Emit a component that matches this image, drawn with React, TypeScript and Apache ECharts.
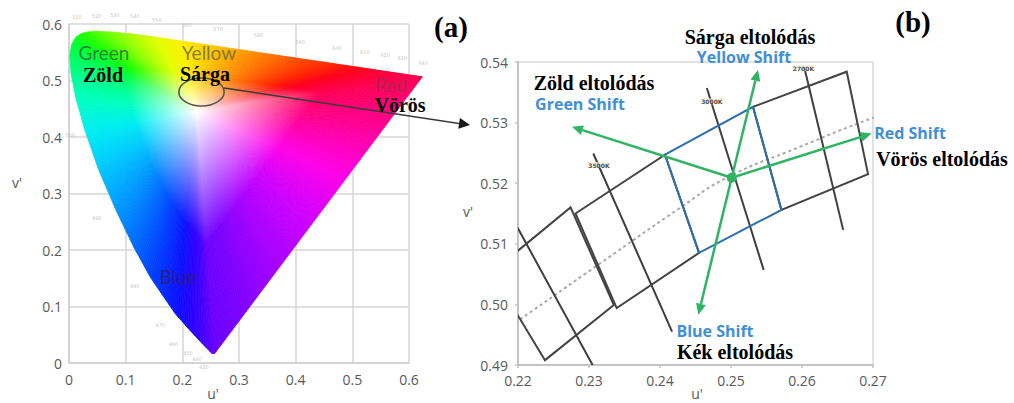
import React, { useEffect, useRef } from "react";
import * as echarts from "echarts";

// ---------------- Panel (a): CIE 1976 u'v' chromaticity diagram ----------------
const panelATicks = [0, 0.1, 0.2, 0.3, 0.4, 0.5, 0.6];

// spectral locus (380 nm ... 700 nm)
const spectralNm = [380, 420, 440, 450, 460, 470, 475, 480, 485, 490, 495, 500, 505, 510, 515, 520, 525, 530, 540, 550, 560, 570, 580, 590, 600, 610, 620, 630, 640, 650, 700];
const spectralU = [0.2568, 0.2522, 0.2347, 0.2161, 0.1877, 0.1441, 0.1147, 0.0828, 0.0521, 0.0282, 0.0119, 0.0035, 0.0014, 0.0046, 0.0123, 0.0231, 0.036, 0.0501, 0.0792, 0.1127, 0.1531, 0.2026, 0.2623, 0.3315, 0.4035, 0.4692, 0.5203, 0.5565, 0.583, 0.6005, 0.6234];
const spectralV = [0.0166, 0.0169, 0.035, 0.0549, 0.0871, 0.151, 0.2044, 0.2708, 0.3427, 0.4117, 0.4698, 0.5131, 0.5432, 0.5638, 0.577, 0.5837, 0.5861, 0.5868, 0.5856, 0.5821, 0.5766, 0.5694, 0.5604, 0.5501, 0.5393, 0.5296, 0.5219, 0.5165, 0.5125, 0.5099, 0.5065];
const spectralColors = ["#6a00ff", "#6000ff", "#4000ff", "#2800ff", "#0a10ff", "#0040ff", "#0068ff", "#0098ff", "#00c8ff", "#00eef0", "#00ffc0", "#00ff90", "#00ff60", "#00ff38", "#10ff18", "#20ff00", "#38ff00", "#50ff00", "#80ff00", "#b0ff00", "#e0ff00", "#ffee00", "#ffc000", "#ff8800", "#ff5000", "#ff2000", "#ff0018", "#ff0030", "#ff0040", "#ff0048", "#ff0050"];
// line of purples (from 700 nm back to 380 nm)
const purpleU = [0.56, 0.49, 0.42, 0.35, 0.3];
const purpleV = [0.4218, 0.3282, 0.2347, 0.1411, 0.0743];
const purpleColors = ["#ff0090", "#ff00e8", "#c800ff", "#9a00ff", "#7a00ff"];
const whitePoint = [0.225, 0.445];

// faint wavelength tick numbers around the locus
const wavelengthNames = ["510", "520", "530", "540", "550", "560", "570", "580", "590", "600", "610", "620", "630", "640", "500", "490", "480", "470", "460", "450", "440", "420"];
const wavelengthU = [0.014, 0.049, 0.081, 0.116, 0.155, 0.208, 0.263, 0.334, 0.408, 0.473, 0.522, 0.558, 0.588, 0.625, 0.002, 0.049, 0.116, 0.161, 0.184, 0.21, 0.226, 0.238];
const wavelengthV = [0.612, 0.614, 0.616, 0.614, 0.607, 0.598, 0.591, 0.581, 0.568, 0.558, 0.551, 0.545, 0.54, 0.531, 0.404, 0.257, 0.136, 0.067, 0.034, 0.018, 0.007, -0.007];

// "Sárga" circle and the arrow to panel (b)
const sargaCenter = [0.2338, 0.4796];
const sargaRadius = [0.04, 0.0248];
const zoomArrowFrom = [0.2735, 0.4867];
const zoomArrowTo = [0.7076, 0.4212];

// ---------------- Panel (b): zoom on the 3000 K region ----------------
const panelBUTicks = [0.22, 0.23, 0.24, 0.25, 0.26, 0.27];
const panelBVTicks = [0.49, 0.5, 0.51, 0.52, 0.53, 0.54];

const locusU = [0.216, 0.2201, 0.2316, 0.2428, 0.2494, 0.2597, 0.2698, 0.274];
const locusV = [0.4943, 0.4974, 0.5068, 0.5159, 0.5209, 0.526, 0.5307, 0.5322];

const bin4000 = [[0.2163, 0.5053], [0.2274, 0.516], [0.2335, 0.4999], [0.2238, 0.4908]];
const bin3500 = [[0.2281, 0.515], [0.2407, 0.5247], [0.2455, 0.5085], [0.2339, 0.4994]];
const bin3000 = [[0.2407, 0.5247], [0.2531, 0.5326], [0.2571, 0.5156], [0.2455, 0.5085]];
const bin2700 = [[0.2531, 0.5326], [0.2663, 0.5384], [0.2693, 0.5215], [0.2571, 0.5156]];

const cct4000 = [[0.2182, 0.5164], [0.2306, 0.4898]];
const cct3500 = [[0.2306, 0.5249], [0.2417, 0.4955]];
const cct3000 = [[0.2466, 0.5357], [0.2546, 0.5057]];
const cct2700 = [[0.2603, 0.5392], [0.2658, 0.5123]];

const cctNames = ["3500K", "3000K", "2700K"];
const cctLabelU = [0.2314, 0.2473, 0.2602];
const cctLabelV = [0.523, 0.5335, 0.539];

const shiftOrigin = [0.2501, 0.5209];
const shiftNames = ["Yellow", "Red", "Blue", "Green"];
const shiftTipU = [0.2538, 0.2698, 0.2454, 0.2276];
const shiftTipV = [0.5387, 0.5282, 0.4983, 0.5293];

// ---------------- helpers ----------------
function hexToRgb(h: string) {
  const n = parseInt(h.slice(1), 16);
  return [(n >> 16) & 255, (n >> 8) & 255, n & 255];
}
function lerpColor(a: string, b: string, t: number) {
  const A = hexToRgb(a);
  const B = hexToRgb(b);
  const c = A.map((v, i) => Math.round(v + (B[i] - v) * t));
  return `rgb(${c[0]},${c[1]},${c[2]})`;
}
function arrowHead(s: number[], t: number[], len: number, half: number) {
  const dx = t[0] - s[0];
  const dy = t[1] - s[1];
  const L = Math.hypot(dx, dy) || 1;
  const ux = dx / L, uy = dy / L;
  const base = [t[0] - ux * len, t[1] - uy * len];
  const nx = -uy, ny = ux;
  return {
    base,
    points: [t, [base[0] + nx * half, base[1] + ny * half], [base[0] - nx * half, base[1] - ny * half]],
  };
}
const fmt2 = (v: number) => v.toFixed(2);
const fmtA = (v: number) => String(+v.toFixed(2));

function txt(text: string, x: number, y: number, font: string, fill: string, extra: any = {}) {
  return {
    type: "text",
    x,
    y,
    z: 100,
    silent: true,
    style: {
      text,
      font,
      fill,
      textAlign: "center",
      textVerticalAlign: "middle",
      align: "center",
      verticalAlign: "middle",
      ...extra,
    },
  };
}

function buildOption() {
  const boundaryU = [...spectralU, ...purpleU];
  const boundaryV = [...spectralV, ...purpleV];
  const boundaryC = [...spectralColors, ...purpleColors];

  const axisLabelStyle = { fontFamily: "Open Sans", fontSize: 14, color: "#595959" };
  const serifBold = (s: number) => `bold ${s}px "Liberation Serif"`;
  const shiftFont = 'bold 16px "Open Sans"';
  const shiftBlue = "#3f8fd8";
  const green = "#2fb463";

  const binSeries = (bins: number[][][], color: string, z: number) => ({
    type: "custom",
    xAxisIndex: 1,
    yAxisIndex: 1,
    clip: true,
    silent: true,
    z,
    data: bins.map((_, i) => [0.245, 0.515, i]),
    renderItem: (params: any, api: any) => {
      const q = bins[params.dataIndex];
      return {
        type: "polygon",
        shape: { points: q.map((p) => api.coord(p)) },
        style: { fill: "none", stroke: color, lineWidth: 2 },
      };
    },
  });

  const cctLines = [cct4000, cct3500, cct3000, cct2700];

  return {
    animation: false,
    backgroundColor: "#ffffff",
    grid: [
      { left: 69, top: 24, width: 340, height: 339, show: false },
      { left: 518, top: 62, width: 355, height: 303, show: true, borderColor: "#d9d9d9", borderWidth: 1.5, backgroundColor: "transparent" },
    ],
    xAxis: [
      {
        gridIndex: 0,
        type: "value",
        min: panelATicks[0],
        max: panelATicks[panelATicks.length - 1],
        interval: 0.1,
        axisLine: { show: true, lineStyle: { color: "#cfcfcf", width: 1.5 } },
        axisTick: { show: false },
        splitLine: { show: true, lineStyle: { color: "#d6d6d6", width: 1.5 } },
        axisLabel: { ...axisLabelStyle, margin: 9, formatter: fmtA },
      },
      {
        gridIndex: 1,
        type: "value",
        min: panelBUTicks[0],
        max: panelBUTicks[panelBUTicks.length - 1],
        interval: 0.01,
        axisLine: { show: true, lineStyle: { color: "#c4c4c4", width: 2 } },
        axisTick: { show: true, length: 3, lineStyle: { color: "#c4c4c4", width: 1.5 } },
        splitLine: { show: false },
        axisLabel: { ...axisLabelStyle, margin: 8, formatter: fmt2 },
      },
    ],
    yAxis: [
      {
        gridIndex: 0,
        type: "value",
        min: panelATicks[0],
        max: panelATicks[panelATicks.length - 1],
        interval: 0.1,
        axisLine: { show: true, lineStyle: { color: "#cfcfcf", width: 1.5 } },
        axisTick: { show: false },
        splitLine: { show: true, lineStyle: { color: "#d6d6d6", width: 1.5 } },
        axisLabel: { ...axisLabelStyle, margin: 7, formatter: fmtA },
      },
      {
        gridIndex: 1,
        type: "value",
        min: panelBVTicks[0],
        max: panelBVTicks[panelBVTicks.length - 1],
        interval: 0.01,
        axisLine: { show: true, lineStyle: { color: "#c4c4c4", width: 2 } },
        axisTick: { show: true, length: 3, lineStyle: { color: "#c4c4c4", width: 1.5 } },
        splitLine: { show: false },
        axisLabel: { ...axisLabelStyle, margin: 10, formatter: fmt2 },
      },
    ],
    series: [
      // colour fill of the chromaticity diagram
      {
        type: "custom",
        xAxisIndex: 0,
        yAxisIndex: 0,
        clip: false,
        silent: true,
        z: 2,
        data: [[0.3, 0.3]],
        renderItem: (_params: any, api: any) => {
          const c = api.coord(whitePoint);
          const pts = boundaryU.map((u, i) => api.coord([u, boundaryV[i]]));
          const n = pts.length;
          const children: any[] = [];
          for (let i = 0; i < n; i++) {
            const p1 = pts[i];
            const p2 = pts[(i + 1) % n];
            const c1 = boundaryC[i];
            const c2 = boundaryC[(i + 1) % n];
            const len = Math.hypot(p2[0] - p1[0], p2[1] - p1[1]);
            const k = Math.max(1, Math.ceil(len / 3));
            for (let j = 0; j < k; j++) {
              const t0 = j / k;
              const t1 = (j + 1) / k;
              const a = [p1[0] + (p2[0] - p1[0]) * t0, p1[1] + (p2[1] - p1[1]) * t0];
              const b = [p1[0] + (p2[0] - p1[0]) * t1, p1[1] + (p2[1] - p1[1]) * t1];
              const col = lerpColor(c1, c2, (t0 + t1) / 2);
              const m = [(a[0] + b[0]) / 2, (a[1] + b[1]) / 2];
              const grad = new echarts.graphic.LinearGradient(
                c[0], c[1], m[0], m[1],
                [
                  { offset: 0, color: "#ffffff" },
                  { offset: 0.55, color: col },
                  { offset: 1, color: col },
                ],
                true
              );
              children.push({
                type: "polygon",
                shape: { points: [c, a, b] },
                style: { fill: grad, stroke: grad, lineWidth: 0.8 },
              });
            }
          }
          return { type: "group", children };
        },
      },
      // faint wavelength numbers
      {
        type: "scatter",
        xAxisIndex: 0,
        yAxisIndex: 0,
        clip: false,
        silent: true,
        symbolSize: 0,
        z: 3,
        data: wavelengthNames.map((nm, i) => [wavelengthU[i], wavelengthV[i], nm]),
        label: {
          show: true,
          position: "inside",
          formatter: (p: any) => p.value[2],
          fontSize: 5,
          color: "#b4b4b4",
          fontFamily: "DejaVu Sans",
        },
      },
      // Sárga circle + arrow towards panel (b)
      {
        type: "custom",
        xAxisIndex: 0,
        yAxisIndex: 0,
        clip: false,
        silent: true,
        z: 6,
        data: [[0.3, 0.3]],
        renderItem: (_params: any, api: any) => {
          const c = api.coord(sargaCenter);
          const e = api.coord([sargaCenter[0] + sargaRadius[0], sargaCenter[1] + sargaRadius[1]]);
          const s = api.coord(zoomArrowFrom);
          const t = api.coord(zoomArrowTo);
          const h = arrowHead(s, t, 11, 5.5);
          return {
            type: "group",
            children: [
              {
                type: "ellipse",
                shape: { cx: c[0], cy: c[1], rx: Math.abs(e[0] - c[0]), ry: Math.abs(e[1] - c[1]) },
                style: { fill: "none", stroke: "#555555", lineWidth: 1.6 },
              },
              {
                type: "line",
                shape: { x1: s[0], y1: s[1], x2: h.base[0], y2: h.base[1] },
                style: { stroke: "#3a3a3a", lineWidth: 1.5 },
              },
              { type: "polygon", shape: { points: h.points }, style: { fill: "#1a1a1a" } },
            ],
          };
        },
      },
      // Planckian locus (dashed)
      {
        type: "line",
        xAxisIndex: 1,
        yAxisIndex: 1,
        clip: true,
        silent: true,
        smooth: true,
        showSymbol: false,
        symbol: "none",
        z: 3,
        data: locusU.map((u, i) => [u, locusV[i]]),
        lineStyle: { color: "#a8a8a8", width: 2, type: [3, 3] },
      },
      // isotemperature lines
      {
        type: "custom",
        xAxisIndex: 1,
        yAxisIndex: 1,
        clip: true,
        silent: true,
        z: 4,
        data: cctLines.map((_, i) => [0.245, 0.515, i]),
        renderItem: (params: any, api: any) => {
          const l = cctLines[params.dataIndex];
          const a = api.coord(l[0]);
          const b = api.coord(l[1]);
          return {
            type: "line",
            shape: { x1: a[0], y1: a[1], x2: b[0], y2: b[1] },
            style: { stroke: "#3f3f3f", lineWidth: 2 },
          };
        },
      },
      binSeries([bin4000, bin3500, bin2700], "#434343", 5),
      binSeries([bin3000], "#2f6fae", 6),
      // shift arrows
      {
        type: "custom",
        xAxisIndex: 1,
        yAxisIndex: 1,
        clip: false,
        silent: true,
        z: 8,
        data: shiftNames.map((_, i) => [shiftTipU[i], shiftTipV[i], i]),
        renderItem: (params: any, api: any) => {
          const i = params.dataIndex;
          const s = api.coord(shiftOrigin);
          const t = api.coord([shiftTipU[i], shiftTipV[i]]);
          const h = arrowHead(s, t, 11, 5);
          const children: any[] = [
            { type: "line", shape: { x1: s[0], y1: s[1], x2: h.base[0], y2: h.base[1] }, style: { stroke: green, lineWidth: 2.5 } },
            { type: "polygon", shape: { points: h.points }, style: { fill: green } },
          ];
          if (i === 0) children.push({ type: "circle", shape: { cx: s[0], cy: s[1], r: 5 }, style: { fill: green } });
          return { type: "group", children };
        },
      },
      // CCT tags
      {
        type: "scatter",
        xAxisIndex: 1,
        yAxisIndex: 1,
        clip: false,
        silent: true,
        symbolSize: 0,
        z: 9,
        data: cctNames.map((nm, i) => [cctLabelU[i], cctLabelV[i], nm]),
        label: {
          show: true,
          position: "inside",
          formatter: (p: any) => p.value[2],
          fontSize: 6,
          fontWeight: "bold",
          color: "#222222",
          fontFamily: "DejaVu Sans",
          backgroundColor: "rgba(245,238,215,0.9)",
          padding: [0, 1],
        },
      },
    ],
    graphic: [
      // axis names
      txt("v'", 17, 182, '14px "Open Sans"', "#595959"),
      txt("u'", 213, 393, '14px "Open Sans"', "#595959"),
      txt("v'", 468, 211, '14px "Open Sans"', "#595959"),
      txt("u'", 697, 393, '14px "Open Sans"', "#595959"),
      // panel (a) labels
      txt("Green", 104, 52, '19px "Lato"', "rgba(40,110,60,0.85)"),
      txt("Yellow", 209, 52, '19px "Lato"', "rgba(110,110,60,0.85)"),
      txt("Red", 391, 84, '19px "Lato"', "rgba(160,40,80,0.8)"),
      txt("Blue", 178, 276, '19px "Lato"', "rgba(45,30,110,0.85)"),
      txt("Zöld", 103, 75, serifBold(20), "#000000"),
      txt("Sárga", 205, 74, serifBold(20), "#000000"),
      txt("Vörös", 400, 105, serifBold(20), "#000000"),
      txt("(a)", 451, 27, serifBold(29), "#000000"),
      // panel (b) labels
      txt("(b)", 913, 22, serifBold(29), "#000000"),
      txt("Sárga eltolódás", 750, 37, serifBold(20), "#000000"),
      txt("Yellow Shift", 744, 57, shiftFont, shiftBlue),
      txt("Zöld eltolódás", 594, 83, serifBold(20), "#000000"),
      txt("Green Shift", 580, 104, shiftFont, shiftBlue),
      txt("Red Shift", 910, 133, shiftFont, shiftBlue),
      txt("Vörös eltolódás", 942, 159, serifBold(20), "#000000"),
      txt("Blue Shift", 715, 331, shiftFont, shiftBlue),
      txt("Kék eltolódás", 735, 352, serifBold(20), "#000000"),
    ],
  };
}

export default function App() {
  const ref = useRef<HTMLDivElement>(null);
  useEffect(() => {
    if (!ref.current) return;
    const chart = echarts.init(ref.current, null, { renderer: "svg" });
    chart.setOption(buildOption() as any);
    return () => chart.dispose();
  }, []);
  return (
    <div
      ref={ref}
      style={{ position: "absolute", left: 0, top: 0, width: 1014, height: 403, background: "#ffffff" }}
    />
  );
}
